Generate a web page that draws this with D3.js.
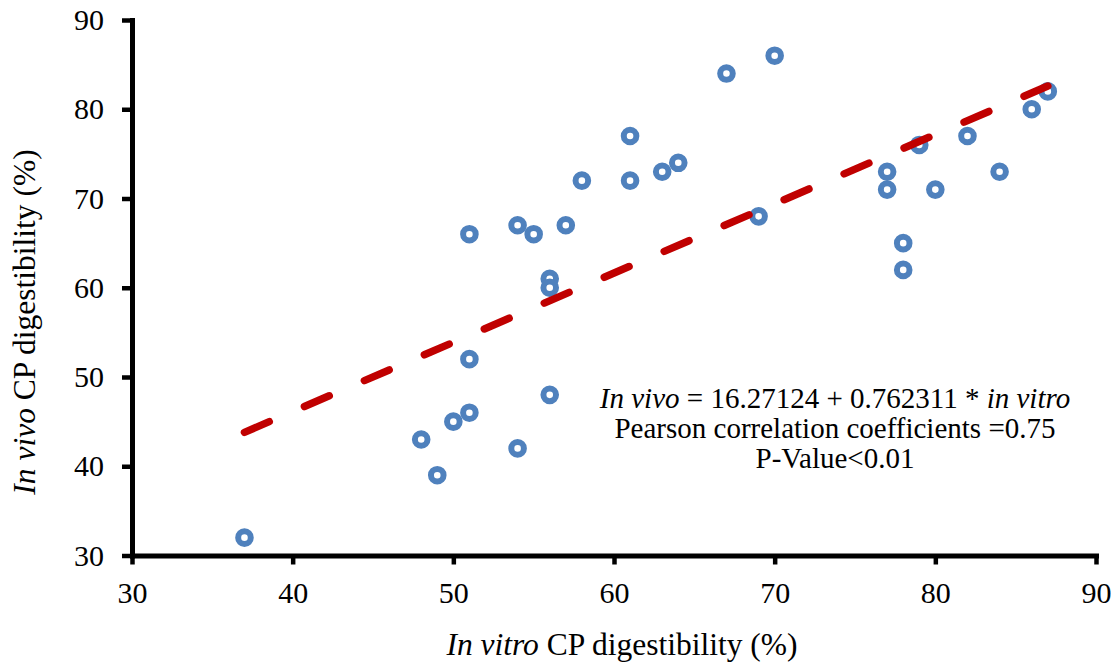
<!DOCTYPE html>
<html>
<head>
<meta charset="utf-8">
<script src="https://cdn.jsdelivr.net/npm/d3@7/dist/d3.min.js"></script>
<style>
  html, body { margin: 0; padding: 0; background: #fff; }
  svg { display: block; }
  text { font-family: "Liberation Serif", "Times New Roman", serif; fill: #000; }
</style>
</head>
<body>
<svg id="chart" width="1117" height="668"></svg>
<script>
// ---- data ----
const inVitro = [37, 48, 49, 50, 51, 51, 51, 54, 54, 55, 56, 56, 56, 57, 58, 61, 61, 63, 64, 67, 69, 70, 77, 77, 78, 78, 79, 80, 82, 84, 86, 87];
const inVivo  = [32, 43, 39, 45, 66, 52, 46, 67, 42, 66, 61, 60, 48, 67, 72, 77, 72, 73, 74, 84, 68, 86, 73, 71, 65, 62, 76, 71, 77, 73, 80, 82];
const trendX = [37, 87];
const trendY = [43.8, 82.6];
const xTicks = [30, 40, 50, 60, 70, 80, 90];
const yTicks = [30, 40, 50, 60, 70, 80, 90];
const noteLines = [
  [{t: "In vivo", i: true}, {t: " = 16.27124 + 0.762311 * ", i: false}, {t: "in vitro", i: true}],
  [{t: "Pearson correlation coefficients =0.75", i: false}],
  [{t: "P-Value<0.01", i: false}]
];

// ---- chart ----
const svg = d3.select("#chart");
const x = d3.scaleLinear().domain([30, 90]).range([132, 1096]);
const y = d3.scaleLinear().domain([30, 90]).range([555.5, 20]);

// points
const pts = inVitro.map((v, i) => ({x: v, y: inVivo[i]}));
svg.append("g").selectAll("circle").data(pts).join("circle")
  .attr("cx", d => x(d.x)).attr("cy", d => y(d.y)).attr("r", 6.3)
  .attr("fill", "#fff").attr("stroke", "#4F81BD").attr("stroke-width", 6);

// trend line
const line = d3.line().x(d => x(d[0])).y(d => y(d[1]));
svg.append("path")
  .datum(trendX.map((v, i) => [v, trendY[i]]))
  .attr("d", line)
  .attr("fill", "none").attr("stroke", "#C00000").attr("stroke-width", 7.5)
  .attr("stroke-linecap", "round").attr("stroke-dasharray", "27 38.3");

// axes
const xAxis = svg.append("g").attr("transform", "translate(0,555.5)")
  .call(d3.axisBottom(x).tickValues(xTicks).tickSize(9).tickPadding(17).tickSizeOuter(0).tickFormat(d3.format("d")));
const yAxis = svg.append("g").attr("transform", "translate(132,0)")
  .call(d3.axisLeft(y).tickValues(yTicks).tickSize(10).tickPadding(18).tickSizeOuter(0).tickFormat(d3.format("d")));
[xAxis, yAxis].forEach(g => {
  g.select(".domain").attr("stroke", "#000").attr("stroke-width", 5).attr("stroke-linecap", "square");
  g.selectAll(".tick line").attr("stroke", "#000").attr("stroke-width", 4.5);
  g.selectAll(".tick text").attr("font-size", 30).attr("font-family", "Liberation Serif").attr("fill", "#000");
});

// axis titles
const xt = svg.append("text").attr("x", 622).attr("y", 655).attr("text-anchor", "middle").attr("font-size", 31.5);
xt.append("tspan").attr("font-style", "italic").text("In vitro");
xt.append("tspan").text(" CP digestibility (%)");

const yt = svg.append("text").attr("transform", "translate(35,322) rotate(-90)").attr("text-anchor", "middle").attr("font-size", 31.5);
yt.append("tspan").attr("font-style", "italic").text("In vivo");
yt.append("tspan").text(" CP digestibility (%)");

// annotation
const baseY = [407.5, 438, 468];
noteLines.forEach((parts, li) => {
  const t = svg.append("text").attr("x", 835).attr("y", baseY[li]).attr("text-anchor", "middle").attr("font-size", 29);
  parts.forEach(p => {
    const s = t.append("tspan").text(p.t);
    if (p.i) s.attr("font-style", "italic");
  });
});
</script>
</body>
</html>
